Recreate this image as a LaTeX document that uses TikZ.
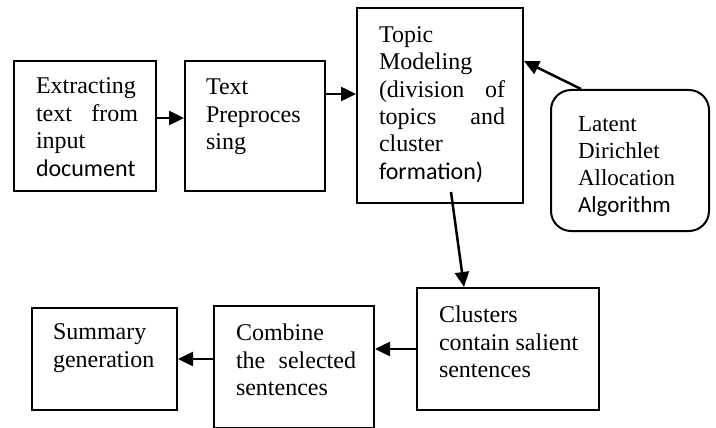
\documentclass[tikz,border=0pt]{standalone}
\usepackage{fontspec}
\setmainfont{Liberation Serif}
\newfontfamily\calibri{Carlito}
\usetikzlibrary{arrows.meta}

% box text: width, height, top gap, left margin, text
\newcommand{\cell}[5]{\parbox[c][#2pt][t]{#1pt}{\vspace*{#3pt}\leftskip=#4pt\rightskip=18pt\parindent=0pt #5}}

\begin{document}
\begin{tikzpicture}[x=1pt, y=-1pt,
    box/.style={draw, line width=2pt, inner sep=0pt, anchor=north west, font=\fontsize{24}{27.4}\selectfont},
    arr/.style={line width=2.5pt, -{Triangle[length=15pt,width=14pt]}}]
  \useasboundingbox (0,0) rectangle (716,428);

  % Top row
  \node[box] (extract) at (13,60) {\cell{142}{130}{17}{22}{Extracting\\ text from\linebreak input\\ {\calibri document}}};
  \node[box] (prep) at (184,60) {\cell{140}{130}{18}{21}{Text\\ Preproces\\ sing}};
  \node[box] (topic) at (356,7) {\cell{166}{195}{18.5}{22}{Topic\\ Modeling\\ (division of\linebreak topics and\linebreak cluster\\ {\calibri formation)}}};
  \node[box, rounded corners=20pt, font=\fontsize{23}{27}\selectfont] (lda) at (550,89) {\cell{158}{141}{26}{27}{Latent\\ Dirichlet\\ Allocation\\ {\calibri Algorithm}}};

  % Bottom row
  \node[box] (clusters) at (416,287) {\cell{182}{122}{18}{22}{Clusters\\ contain salient\\ sentences}};
  \node[box] (combine) at (213,305) {\cell{160}{122}{18}{22}{Combine\\ the selected\linebreak sentences}};
  \node[box] (summary) at (31,307) {\cell{145}{102}{16}{21}{Summary\\ generation}};

  % Arrows
  \draw[arr] ([yshift=8pt]extract.east) -- ([yshift=8pt]prep.west);
  \draw[arr] ([yshift=32pt]prep.east) -- ([yshift=11.5pt]topic.west);
  \draw[arr] ([xshift=-49pt]lda.north) -- ([yshift=44.5pt]topic.east);
  \draw[arr] ([xshift=11pt,yshift=12pt]topic.south) -- ([xshift=-44pt]clusters.north);
  \draw[arr] (clusters.west) -- (clusters.west -| combine.east);
  \draw[arr] (combine.west |- summary.east) -- (summary.east);
\end{tikzpicture}
\end{document}
